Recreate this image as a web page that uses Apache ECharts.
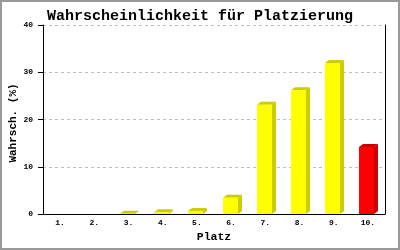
<!DOCTYPE html>
<html>
<head>
<meta charset="utf-8">
<script src="https://cdn.jsdelivr.net/npm/echarts@6/dist/echarts.min.js"></script>
<style>
html,body{margin:0;padding:0;background:#fff;}
#c{width:400px;height:250px;}
</style>
</head>
<body>
<div id="c"></div>
<script>
const titleText = 'Wahrscheinlichkeit für Platzierung';
const xName = 'Platz';
const yName = 'Wahrsch. (%)';
const categories = ['1.', '2.', '3.', '4.', '5.', '6.', '7.', '8.', '9.', '10.'];
const values = [0, 0, 0.05, 0.35, 0.65, 3.45, 23.1, 26.2, 31.95, 14.2];
const highlightCategory = '10.';
const yTicks = [0, 10, 20, 30, 40];

const FONT = '"Liberation Mono", "DejaVu Sans Mono", monospace';
const FRONT = '#ffff00', SIDE = '#cccc00';
const FRONT_HI = '#ff0000', SIDE_HI = '#cc0000';

function renderItem(params, api) {
  const idx = api.value(0);
  const val = api.value(1);
  if (!(val > 0)) return null;
  const top = api.coord([idx, val]);
  const base = api.coord([idx, 0]);
  const band = api.size([1, 0])[0];
  const bw = Math.round(band * 0.44);
  const dx = 4, dy = 3;
  const x0 = Math.round(top[0] - bw / 2 - 1);
  const x1 = x0 + bw;
  const yt = top[1], yb = base[1];
  const hi = categories[idx] === highlightCategory;
  const fc = hi ? FRONT_HI : FRONT;
  const sc = hi ? SIDE_HI : SIDE;
  return {
    type: 'group',
    children: [
      { type: 'polygon', shape: { points: [[x1, yt], [x1 + dx, yt - dy], [x1 + dx, yb - dy], [x1, yb]] }, style: { fill: sc } },
      { type: 'polygon', shape: { points: [[x0, yt], [x0 + dx, yt - dy], [x1 + dx, yt - dy], [x1, yt]] }, style: { fill: sc } },
      { type: 'rect', shape: { x: x0, y: yt, width: bw, height: yb - yt }, style: { fill: fc } }
    ]
  };
}

const chart = echarts.init(document.getElementById('c'), null, { renderer: 'canvas' });
chart.setOption({
  animation: false,
  backgroundColor: '#ffffff',
  title: {
    text: titleText,
    left: 'center',
    top: 4,
    textStyle: { fontFamily: FONT, fontSize: 15, fontWeight: 'bold', color: '#000' }
  },
  grid: { left: 43, right: 15, top: 25, bottom: 36, containLabel: false, outerBoundsMode: 'none' },
  xAxis: {
    type: 'category',
    data: categories,
    name: xName,
    nameLocation: 'middle',
    nameGap: 17,
    nameMoveOverlap: false,
    nameTextStyle: { fontFamily: FONT, fontSize: 11.5, fontWeight: 'bold', color: '#000' },
    axisLine: { show: true, onZero: false, lineStyle: { color: '#000', width: 1 } },
    axisTick: { show: false },
    axisLabel: { fontFamily: FONT, fontSize: 8, fontWeight: 'bold', color: '#000', margin: 5, interval: 0 },
    splitLine: { show: false }
  },
  yAxis: [{
    type: 'value',
    min: yTicks[0],
    max: yTicks[yTicks.length - 1],
    interval: yTicks[1] - yTicks[0],
    name: yName,
    nameLocation: 'middle',
    nameGap: 24,
    nameMoveOverlap: false,
    nameTextStyle: { fontFamily: FONT, fontSize: 11, fontWeight: 'bold', color: '#000', padding: [0, 7, 0, 0] },
    axisLine: { show: true, lineStyle: { color: '#000', width: 1 } },
    axisTick: { show: true, length: 5, lineStyle: { color: '#000' } },
    axisLabel: { fontFamily: FONT, fontSize: 8, fontWeight: 'bold', color: '#000', margin: 10 },
    splitLine: { show: true, lineStyle: { color: '#c0c0c0', type: [3, 3], width: 1 } }
  }, {
    type: 'value',
    position: 'right',
    min: yTicks[0],
    max: yTicks[yTicks.length - 1],
    interval: yTicks[1] - yTicks[0],
    axisLine: { show: true, lineStyle: { color: '#000', width: 1 } },
    axisTick: { show: false },
    axisLabel: { show: false },
    splitLine: { show: false }
  }],
  graphic: [{
    type: 'rect',
    shape: { x: 1, y: 1, width: 398, height: 248 },
    style: { fill: null, stroke: '#999999', lineWidth: 2 },
    z: 100
  }],
  series: [{
    type: 'custom',
    renderItem: renderItem,
    encode: { x: 0, y: 1 },
    data: values.map((v, i) => [i, v]),
    clip: false
  }]
});
</script>
</body>
</html>
